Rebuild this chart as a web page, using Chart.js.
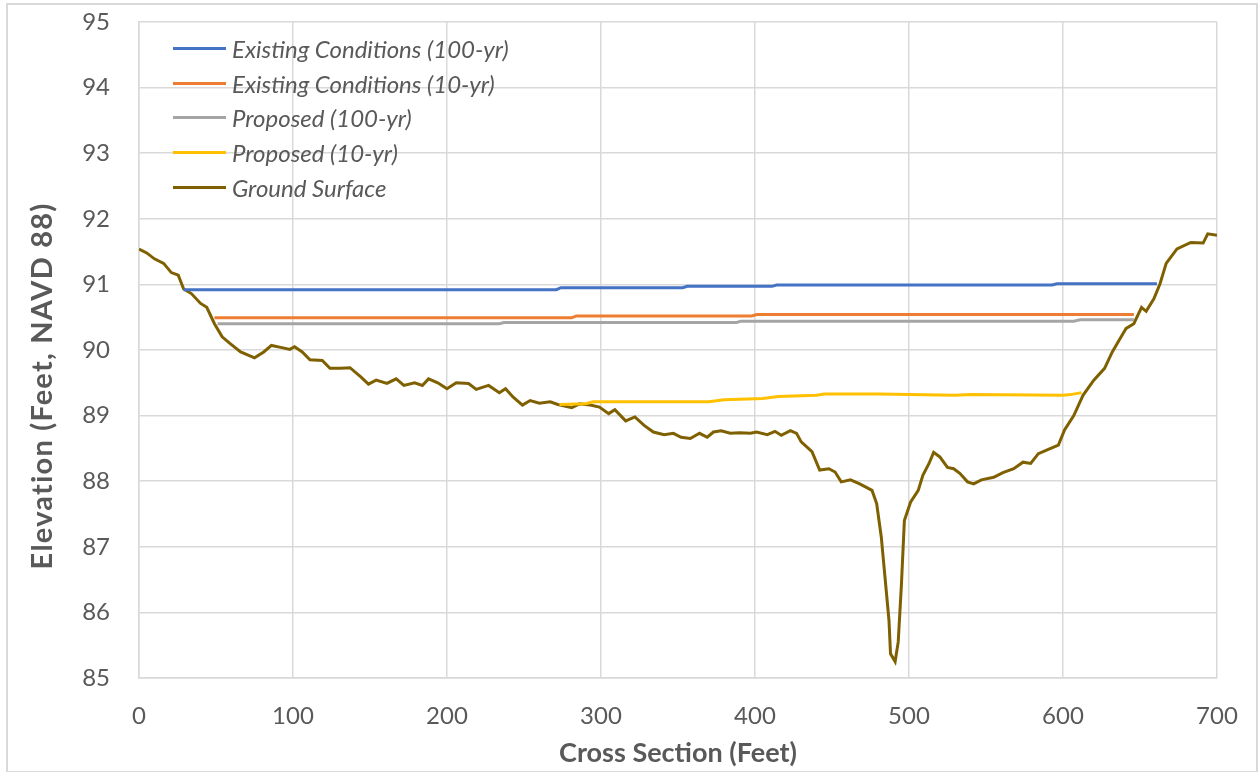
<!DOCTYPE html>
<html>
<head>
<meta charset="utf-8">
<script src="https://cdn.jsdelivr.net/npm/chart.js@4/dist/chart.umd.min.js"></script>
<style>
  body { margin: 0; background: #fff; }
  #wrap { position: relative; width: 1259px; height: 772px; }
  #frame { position: absolute; left: 6px; top: 3px; width: 1248px; height: 766px; border: 2px solid #d9d9d9; pointer-events: none; }
  #legend { position: absolute; left: 173px; top: 31px; font-family: Lato, sans-serif; font-style: italic; font-size: 24px; color: #595959; }
  .row { height: 34.8px; display: flex; align-items: center; }
  .swatch { width: 53px; height: 3px; margin-right: 6px; }
  #ytitle { position: absolute; left: 40px; top: 386px; transform: translate(-50%, -50%) rotate(-90deg); white-space: nowrap;
    font-family: Lato, sans-serif; font-weight: bold; font-size: 29px; letter-spacing: 1.2px; color: #595959; }
</style>
</head>
<body>
<div id="wrap">
  <canvas id="chart" width="1259" height="772"></canvas>
  <div id="legend"></div>
  <div id="ytitle"></div>
  <div id="frame"></div>
</div>
<script>
// ground profile (station ft, elevation ft)
const groundX = [0,5,10,16,21,25.5,29,34,40,44,
  49,54,59,66,75,81,86,92,98,101,
  106,111,119,124,131,137,144,149,154,161,
  167,172,179,184,188,194,200,206,214,219,
  227,234,238,243,249,254,260,267,272,281,
  286,293,299,305,309,316,322,328,334,341,
  347,352,358,364,369,373,378,384,390,397,
  401,408,413,417,423,427,430,437,442,448,
  452,456,462,468,476,479,482,484,487,488,
  491,493,495,497,501,506,509,513,516,520,
  525,529,533,538,542,547,555,561,568,574,
  579,584,592,597,601,607,613,620,627,632,
  637,641,646,651,654,659,663,667,674,683,
  691,694,700]
const groundY = [91.54,91.48,91.39,91.32,91.18,91.14,90.93,90.86,90.71,90.65,
  90.40,90.20,90.10,89.97,89.88,89.97,90.07,90.04,90.01,90.05,
  89.97,89.85,89.84,89.72,89.72,89.73,89.59,89.48,89.54,89.49,
  89.56,89.46,89.50,89.46,89.56,89.50,89.41,89.50,89.49,89.40,
  89.46,89.35,89.41,89.28,89.16,89.23,89.19,89.21,89.17,89.12,
  89.18,89.16,89.13,89.03,89.09,88.92,88.98,88.85,88.75,88.71,
  88.73,88.67,88.65,88.73,88.67,88.75,88.77,88.73,88.74,88.73,
  88.75,88.71,88.76,88.70,88.77,88.73,88.60,88.45,88.17,88.19,
  88.14,87.99,88.02,87.96,87.86,87.66,87.15,86.64,85.88,85.37,
  85.25,85.55,86.39,87.40,87.68,87.86,88.09,88.27,88.44,88.37,
  88.21,88.19,88.12,87.99,87.96,88.02,88.06,88.13,88.19,88.29,
  88.27,88.42,88.50,88.55,88.78,89.00,89.31,89.54,89.72,89.97,
  90.17,90.33,90.40,90.65,90.59,90.78,91.01,91.32,91.54,91.64,
  91.63,91.77,91.75]

// water surfaces
const ex100X = [29,271,274,353,356,411,414,593,596,661]
const ex100Y = [90.92,90.92,90.95,90.95,90.97,90.97,90.99,90.99,91.01,91.01]
const ex10X = [49,281,284,398,401,646]
const ex10Y = [90.49,90.49,90.52,90.52,90.54,90.54]
const pr100X = [51,234,237,388,391,607,611,646]
const pr100Y = [90.40,90.40,90.42,90.42,90.44,90.44,90.46,90.46]
const pr10X = [273,290,295,370,380,405,415,440,445,480,500,530,540,600,605,612]
const pr10Y = [89.17,89.18,89.21,89.21,89.24,89.26,89.29,89.31,89.33,89.33,89.32,89.31,89.32,89.31,89.32,89.35]

const names = ["Existing Conditions (100-yr)", "Existing Conditions (10-yr)", "Proposed (100-yr)", "Proposed (10-yr)", "Ground Surface"]
const colors = ["#4472C4", "#ED7D31", "#A5A5A5", "#FFC000", "#7F6000"]
const xTicks = [0,100,200,300,400,500,600,700]
const yTicks = [85,86,87,88,89,90,91,92,93,94,95]
const xTitle = "Cross Section (Feet)"
const yTitle = "Elevation (Feet, NAVD 88)"

const pts = (xs, ys) => xs.map((x, i) => ({ x, y: ys[i] }))
const series = [pts(ex100X, ex100Y), pts(ex10X, ex10Y), pts(pr100X, pr100Y), pts(pr10X, pr10Y), pts(groundX, groundY)]

const legend = document.getElementById("legend")
names.forEach((n, i) => {
  const row = document.createElement("div")
  row.className = "row"
  row.innerHTML = `<span class="swatch" style="background:${colors[i]}"></span><span>${n}</span>`
  legend.appendChild(row)
})
document.getElementById("ytitle").textContent = yTitle

const txt = "#595959"
const grid = "#d9d9d9"

new Chart(document.getElementById("chart"), {
  type: "line",
  data: {
    datasets: series.map((d, i) => ({
      label: names[i],
      data: d,
      borderColor: colors[i],
      borderWidth: 3,
      pointRadius: 0,
      tension: 0,
      fill: false
    }))
  },
  options: {
    responsive: false,
    animation: false,
    layout: { padding: { top: 22, right: 42, left: 0, bottom: 0 } },
    plugins: { legend: { display: false }, tooltip: { enabled: false } },
    scales: {
      x: {
        type: "linear",
        min: 0, max: 700,
        afterBuildTicks: s => { s.ticks = xTicks.map(v => ({ value: v })) },
        afterFit: s => { s.height = 94; s.paddingLeft = 0; s.paddingRight = 0 },
        grid: { color: grid, lineWidth: 1.5, drawTicks: false },
        border: { color: grid, width: 1.5 },
        ticks: { color: txt, padding: 24, font: { family: "Lato", size: 24 } },
        title: { display: true, text: xTitle, color: txt, padding: { top: 0, bottom: 3 }, font: { family: "Lato", size: 27, weight: "bold" } }
      },
      y: {
        min: 85, max: 95,
        afterBuildTicks: s => { s.ticks = yTicks.map(v => ({ value: v })) },
        afterFit: s => { s.width = 139; s.paddingTop = 0; s.paddingBottom = 0 },
        grid: { color: grid, lineWidth: 1.5, drawTicks: false },
        border: { color: grid, width: 1.5 },
        ticks: { color: txt, padding: 29, font: { family: "Lato", size: 24 } }
      }
    }
  }
})
</script>
</body>
</html>
